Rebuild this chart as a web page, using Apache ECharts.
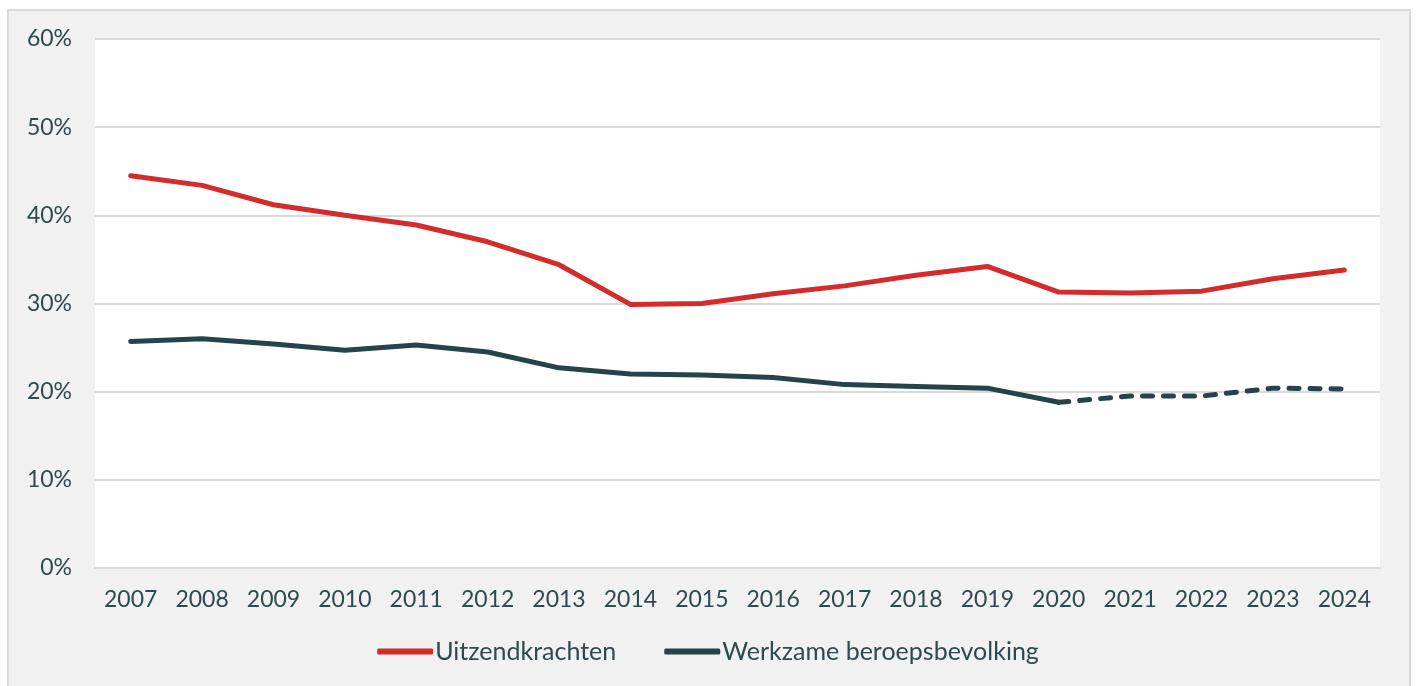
<!DOCTYPE html>
<html lang="nl">
<head>
<meta charset="UTF-8">
<title>Uitzendkrachten</title>
<style>
    html, body { margin: 0; padding: 0; background: #fff; }
    #frame {
        position: absolute; left: 7px; top: 9px; width: 1400px; height: 700px;
        background: #f1f1f1; border: 2px solid #dadada;
    }
    #chart { position: absolute; left: 0; top: 0; width: 1416px; height: 686px; }
</style>
</head>
<body>
<div id="frame"></div>
<div id="chart"></div>
<script src="https://cdn.jsdelivr.net/npm/echarts@6/dist/echarts.min.js"></script>
<script>
    var years = ['2007', '2008', '2009', '2010', '2011', '2012', '2013', '2014', '2015',
        '2016', '2017', '2018', '2019', '2020', '2021', '2022', '2023', '2024'];
    var uitzend = [44.5, 43.4, 41.2, 40.0, 38.9, 37.0, 34.4, 29.9, 30.0,
        31.1, 32.0, 33.2, 34.2, 31.3, 31.2, 31.4, 32.8, 33.8];
    var werkzaam = [25.7, 26.0, 25.4, 24.7, 25.3, 24.5, 22.7, 22.0, 21.9,
        21.6, 20.8, 20.6, 20.4, 18.8, 19.5, 19.5, 20.4, 20.3];
    var lastSolid = 13; // 2020, daarna gestippeld

    var solidPart = werkzaam.map(function (v, i) { return i <= lastSolid ? v : null; });
    var dashPart = werkzaam.map(function (v, i) { return i >= lastSolid ? v : null; });

    var textColor = '#2c4a50';
    var chart = echarts.init(document.getElementById('chart'));
    chart.setOption({
        backgroundColor: 'transparent',
        textStyle: { fontFamily: 'Lato' },
        grid: {
            left: 95, right: 36, top: 39, bottom: 118,
            show: true, backgroundColor: '#fff', borderWidth: 0
        },
        legend: {
            bottom: 17,
            left: 'center',
            itemWidth: 56,
            itemHeight: 6,
            itemGap: 48,
            icon: 'roundRect',
            data: ['Uitzendkrachten', 'Werkzame beroepsbevolking'],
            textStyle: { color: textColor, fontSize: 25, fontFamily: 'Lato', padding: [0, 0, 0, -3] }
        },
        xAxis: {
            type: 'category',
            data: years,
            boundaryGap: true,
            axisLine: { show: true, lineStyle: { color: '#d9d9d9', width: 2 } },
            axisTick: { show: false },
            axisLabel: { color: textColor, fontSize: 23, margin: 20 }
        },
        yAxis: {
            type: 'value',
            min: 0, max: 60, interval: 10,
            axisLine: { show: false },
            axisTick: { show: false },
            splitLine: { lineStyle: { color: '#d9d9d9', width: 2 } },
            axisLabel: {
                color: textColor, fontSize: 23, margin: 23,
                formatter: '{value}%'
            }
        },
        series: [
            {
                name: 'Uitzendkrachten',
                type: 'line',
                data: uitzend,
                symbol: 'none',
                lineStyle: { color: '#d42b2b', width: 5, cap: 'round' },
                itemStyle: { color: '#d42b2b' }
            },
            {
                name: 'Werkzame beroepsbevolking',
                type: 'line',
                data: solidPart,
                symbol: 'none',
                lineStyle: { color: '#25434a', width: 5, cap: 'round' },
                itemStyle: { color: '#25434a' }
            },
            {
                name: 'Werkzame beroepsbevolking',
                type: 'line',
                data: dashPart,
                symbol: 'none',
                lineStyle: { color: '#25434a', width: 5, type: [10, 11], cap: 'round' },
                itemStyle: { color: '#25434a' }
            }
        ]
    });
</script>
</body>
</html>
